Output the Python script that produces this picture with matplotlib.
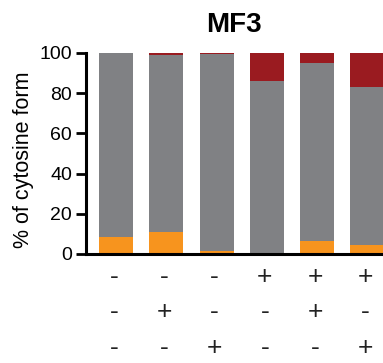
import matplotlib
matplotlib.use("Agg")
import matplotlib.pyplot as plt

plt.rcParams['font.family'] = ['Liberation Sans', 'DejaVu Sans']

# stacked percentages per condition (bottom -> top)
orange = [8.6, 10.7, 1.3, 0.0, 6.6, 4.6]
gray_top = [100.0, 99.2, 99.5, 86.2, 95.2, 83.2]
row1 = ["-", "-", "-", "+", "+", "+"]
row2 = ["-", "+", "-", "-", "+", "-"]
row3 = ["-", "-", "+", "-", "-", "+"]

c_orange = "#F7941E"
c_gray = "#808184"
c_red = "#9A1B20"

gray = [g - o for g, o in zip(gray_top, orange)]
red = [100 - g for g in gray_top]
x = list(range(len(orange)))

W, H = 383, 363
fig = plt.figure(figsize=(W / 100, H / 100), dpi=100)
ax = fig.add_axes([86 / W, 1 - 254 / H, (W - 86) / W, 201 / H])

w = 0.676
ax.bar(x, orange, w, color=c_orange)
ax.bar(x, gray, w, bottom=orange, color=c_gray)
ax.bar(x, red, w, bottom=gray_top, color=c_red)

ax.set_xlim(-0.596, 5.31)
ax.set_ylim(0, 100)
ax.set_yticks([0, 20, 40, 60, 80, 100])
ax.set_xticks([])
for s in ["top", "right"]:
    ax.spines[s].set_visible(False)
for s in ["left", "bottom"]:
    ax.spines[s].set_linewidth(2.2)
ax.tick_params(axis="y", width=2, length=7, labelsize=14, pad=3)
fig.text(24 / W, 1 - 160 / H, "% of cytosine form", rotation=90,
         ha="center", va="center", fontsize=15.5)
fig.text(234 / W, 1 - 25 / H, "MF3", ha="center", va="center",
         fontsize=20, fontweight="bold")

# +/- condition table under the bars
for i in x:
    for row, yy in zip((row1, row2, row3), (277, 312, 348)):
        fig.text((116 + 50.3 * i - 2) / W, 1 - yy / H, row[i],
                 ha="center", va="center", fontsize=19, color="#222222")

fig.savefig("out.png", dpi=100)
